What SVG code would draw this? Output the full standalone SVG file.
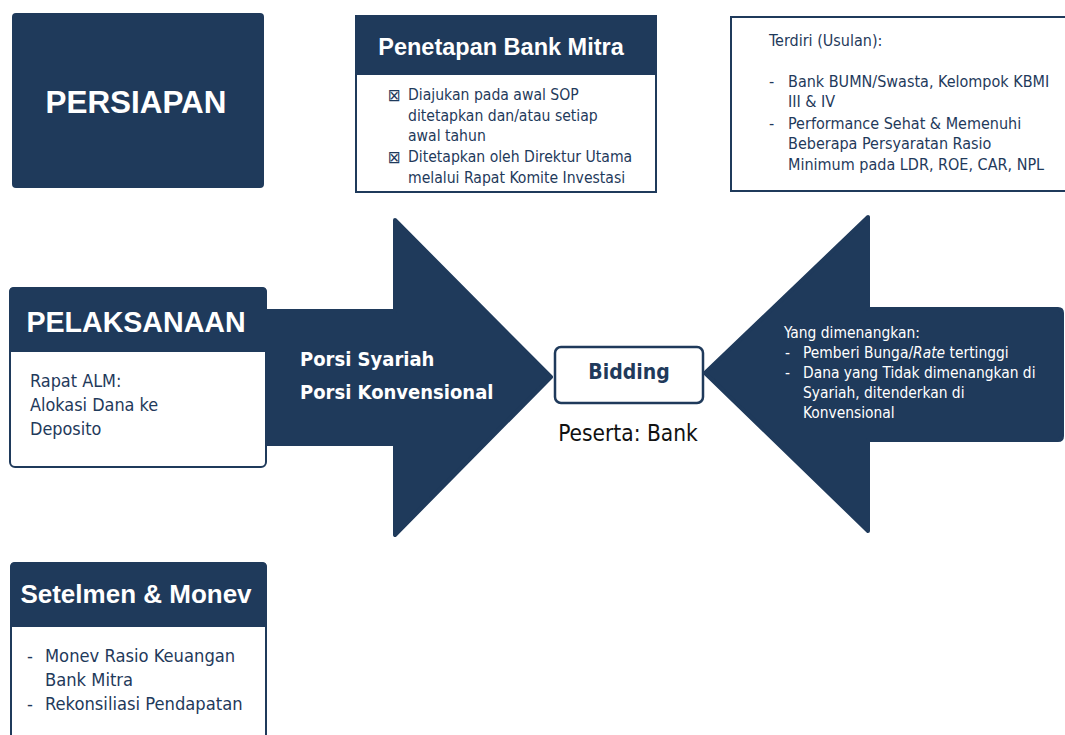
<svg xmlns="http://www.w3.org/2000/svg" width="1065" height="735" viewBox="0 0 1065 735">
<defs>
<style>
.navy{fill:#1f3a5b}
.title{font-family:"Liberation Sans",Arial,sans-serif;font-weight:bold;fill:#ffffff}
.body{font-family:"DejaVu Sans Condensed","DejaVu Sans",sans-serif;font-stretch:condensed;fill:#1f3a5b}
.wbody{font-family:"DejaVu Sans Condensed","DejaVu Sans",sans-serif;font-stretch:condensed;fill:#ffffff}
.boxline{fill:#ffffff;stroke:#1f3a5b;stroke-width:2}
</style>
</defs>
<rect width="1065" height="735" fill="#ffffff"/>

<g id="connectors">
  <path id="arrow-right" class="navy" stroke="#1f3a5b" stroke-width="4" stroke-linejoin="round" d="M262,311 L395,311 L395,220 L551,377 L395,535 L395,444 L262,444 Z"/>
  <path id="arrow-left" class="navy" stroke="#1f3a5b" stroke-width="4" stroke-linejoin="round" d="M705,373 L868,217 L868,309 L1058,309 Q1062,309 1062,313 L1062,436 Q1062,440 1058,440 L868,440 L868,531 Z"/>
</g>

<g id="persiapan">
  <rect x="12" y="13" width="252" height="175" rx="4" class="navy"/>
  <text x="136" y="113" class="title" font-size="31.4" text-anchor="middle">PERSIAPAN</text>
</g>

<g id="penetapan">
  <rect x="356" y="16" width="300" height="176" class="boxline"/>
  <rect x="355" y="15" width="302" height="60" class="navy"/>
  <text x="501" y="55" class="title" font-size="23.5" text-anchor="middle">Penetapan Bank Mitra</text>
  <g class="body" font-size="15.6">
    <text x="388" y="101" font-size="17">⊠</text>
    <text x="408" y="100">Diajukan pada awal SOP</text>
    <text x="408" y="121">ditetapkan dan/atau setiap</text>
    <text x="408" y="141">awal tahun</text>
    <text x="388" y="163" font-size="17">⊠</text>
    <text x="408" y="162">Ditetapkan oleh Direktur Utama</text>
    <text x="408" y="183">melalui Rapat Komite Investasi</text>
  </g>
</g>

<g id="terdiri">
  <rect x="731" y="17" width="345" height="174" class="boxline"/>
  <g class="body" font-size="16">
    <text x="769" y="46">Terdiri (Usulan):</text>
    <text x="769" y="87">-</text>
    <text x="788" y="87">Bank BUMN/Swasta, Kelompok KBMI</text>
    <text x="788" y="107">III &amp; IV</text>
    <text x="769" y="129">-</text>
    <text x="788" y="129">Performance Sehat &amp; Memenuhi</text>
    <text x="788" y="149">Beberapa Persyaratan Rasio</text>
    <text x="788" y="170">Minimum pada LDR, ROE, CAR, NPL</text>
  </g>
</g>

<g id="pelaksanaan">
  <rect x="10" y="288" width="256" height="179" rx="5" class="boxline"/>
  <path class="navy" d="M9,292 Q9,287 14,287 L262,287 Q267,287 267,292 L267,352 L9,352 Z"/>
  <text x="136" y="332" class="title" font-size="28.6" text-anchor="middle">PELAKSANAAN</text>
  <g class="body" font-size="17.9">
    <text x="30" y="387">Rapat ALM:</text>
    <text x="30" y="411">Alokasi Dana ke</text>
    <text x="30" y="435">Deposito</text>
  </g>
</g>

<g id="porsi">
  <text x="300" y="366" class="wbody" font-size="20" font-weight="bold">Porsi Syariah</text>
  <text x="300" y="399" class="wbody" font-size="20" font-weight="bold">Porsi Konvensional</text>
</g>

<g id="bidding">
  <rect x="555" y="347" width="148" height="56" rx="6" fill="#ffffff" stroke="#1f3a5b" stroke-width="2.5"/>
  <text x="629" y="379" class="body" font-size="21" font-weight="bold" text-anchor="middle">Bidding</text>
  <text x="628" y="441" font-family="DejaVu Sans Condensed,DejaVu Sans,sans-serif" font-stretch="condensed" font-size="22.5" fill="#111111" text-anchor="middle">Peserta: Bank</text>
</g>

<g id="dimenangkan">
  <g class="wbody" font-size="15.4">
    <text x="784" y="338">Yang dimenangkan:</text>
    <text x="785" y="358">-</text>
    <text x="803" y="358">Pemberi Bunga/<tspan font-style="italic">Rate</tspan> tertinggi</text>
    <text x="785" y="378">-</text>
    <text x="803" y="378">Dana yang Tidak dimenangkan di</text>
    <text x="803" y="398">Syariah, ditenderkan di</text>
    <text x="803" y="418">Konvensional</text>
  </g>
</g>

<g id="setelmen">
  <rect x="11" y="563" width="255" height="190" rx="5" class="boxline"/>
  <path class="navy" d="M10,567 Q10,562 15,562 L262,562 Q267,562 267,567 L267,627 L10,627 Z"/>
  <text x="136" y="603" class="title" font-size="26" text-anchor="middle">Setelmen &amp; Monev</text>
  <g class="body" font-size="18.2">
    <text x="27" y="662">-</text>
    <text x="45" y="662">Monev Rasio Keuangan</text>
    <text x="45" y="686">Bank Mitra</text>
    <text x="27" y="710">-</text>
    <text x="45" y="710">Rekonsiliasi Pendapatan</text>
  </g>
</g>
</svg>
